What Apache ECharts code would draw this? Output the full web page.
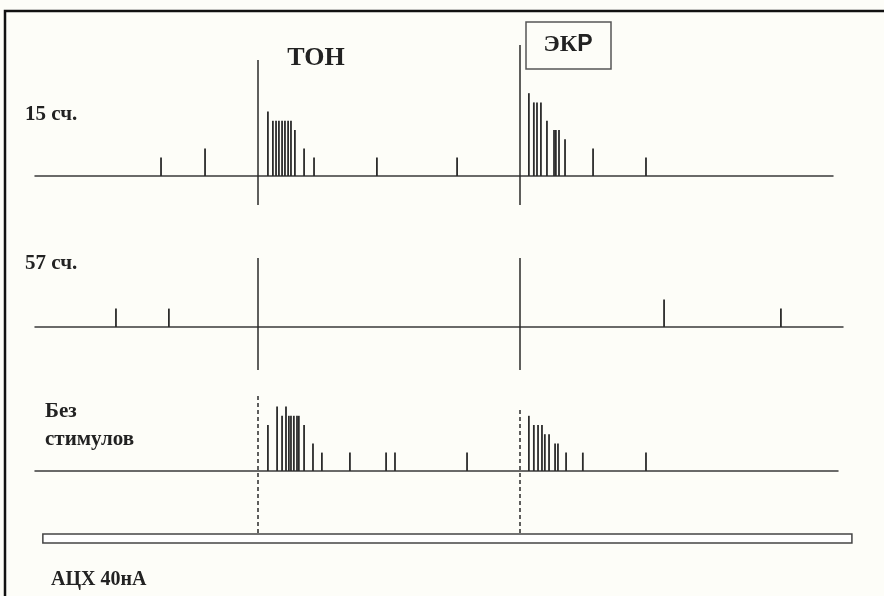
<!DOCTYPE html>
<html>
<head>
<meta charset="utf-8">
<script src="https://cdn.jsdelivr.net/npm/echarts@6/dist/echarts.min.js"></script>
<style>
html, body { margin: 0; padding: 0; background: #fdfdf8; }
#echart { width: 884px; height: 596px; }
</style>
</head>
<body>
<div id="echart"></div>
<script>
// время, мс от начала тона (ЭКР через 1000 мс); высота спайка - мгновенная частота, усл. ед.
let tone15Times = [-370, -202, 38, 57, 69, 80, 92, 103, 115, 126, 141, 176, 214, 454, 760,
    1034, 1053, 1065, 1080, 1103, 1130, 1137, 1149, 1172, 1279, 1481];
let tone15Rates = [2, 3, 7, 6, 6, 6, 6, 6, 6, 6, 5, 3, 2, 2, 2,
    9, 8, 8, 8, 6, 5, 5, 5, 4, 3, 2];

let tone57Times = [-542, -340, 1550, 1996];
let tone57Rates = [2, 2, 3, 2];

let noStimTimes = [38, 73, 92, 107, 118, 126, 137, 149, 156, 176, 210, 244, 351, 489, 523, 798,
    1034, 1053, 1069, 1084, 1095, 1111, 1134, 1145, 1176, 1240, 1481];
let noStimRates = [5, 7, 6, 7, 6, 6, 6, 6, 6, 5, 3, 2, 2, 2, 2, 2,
    6, 5, 5, 5, 4, 4, 3, 3, 2, 2, 2];

let onsets = [0, 1000];          // ТОН, ЭКР
let stimBar = [-821, 2267];      // АЦХ 40нА

// масштаб
const PX_PER_MS = 0.262;
const LEFT = 35;
const X_MIN = -851;
const U = 9.2;                   // пикселей на единицу частоты

let rows = [
    {times: tone15Times, rates: tone15Rates, base: 176, right: 833, yMin: -3.2, yMax: 14.3,
        marks: [[-3.15, 12.6], [-3.15, 14.25]], dashed: false},
    {times: tone57Times, rates: tone57Rates, base: 327, right: 843, yMin: -4.7, yMax: 7.6,
        marks: [[-4.67, 7.5], [-4.67, 7.5]], dashed: false},
    {times: noStimTimes, rates: noStimRates, base: 471, right: 838, yMin: -6.75, yMax: 8.2,
        marks: [[-6.74, 8.15], [-6.74, 6.85]], dashed: true}
];

function spike(params, api) {
    let p0 = api.coord([api.value(0), 0]);
    let p1 = api.coord([api.value(0), api.value(1)]);
    return {
        type: 'line',
        shape: {x1: p0[0], y1: p0[1], x2: p1[0], y2: p1[1]},
        style: {stroke: '#2b2b2b', lineWidth: 1.8}
    };
}

let grid = [], xAxis = [], yAxis = [], series = [];

rows.forEach(function (r, i) {
    let w = r.right - LEFT;
    grid.push({left: LEFT, top: r.base - r.yMax * U, width: w, height: (r.yMax - r.yMin) * U});
    xAxis.push({
        type: 'value', gridIndex: i, min: X_MIN, max: X_MIN + w / PX_PER_MS,
        axisLine: {show: true, onZero: true, lineStyle: {color: '#3a3a3a', width: 1.5}},
        axisTick: {show: false}, axisLabel: {show: false}, splitLine: {show: false}
    });
    yAxis.push({type: 'value', gridIndex: i, min: r.yMin, max: r.yMax, show: false, splitLine: {show: false}});
    series.push({
        type: 'custom',
        xAxisIndex: i, yAxisIndex: i,
        data: r.times.map(function (t, k) { return [t, r.rates[k]]; }),
        encode: {x: 0, y: 1},
        renderItem: spike,
        silent: true,
        markLine: {
            silent: true,
            symbol: ['none', 'none'],
            label: {show: false},
            lineStyle: {color: '#2a2a2a', width: 1.5, type: r.dashed ? [4, 3] : 'solid'},
            data: onsets.map(function (t, k) {
                return [{coord: [t, r.marks[k][0]]}, {coord: [t, r.marks[k][1]]}];
            })
        }
    });
});

// полоса стимуляции
let sw = 852 - LEFT;
grid.push({left: LEFT, top: 534, width: sw, height: 9});
xAxis.push({type: 'value', gridIndex: 3, min: X_MIN, max: X_MIN + sw / PX_PER_MS, show: false, splitLine: {show: false}});
yAxis.push({type: 'value', gridIndex: 3, min: 0, max: 1, show: false, splitLine: {show: false}});
series.push({
    type: 'custom',
    xAxisIndex: 3, yAxisIndex: 3,
    data: [stimBar],
    encode: {x: [0, 1]},
    renderItem: function (params, api) {
        let a = api.coord([api.value(0), 1]);
        let b = api.coord([api.value(1), 0]);
        return {
            type: 'rect',
            shape: {x: a[0], y: a[1], width: b[0] - a[0], height: b[1] - a[1]},
            style: {fill: '#fff', stroke: '#444', lineWidth: 1.5}
        };
    },
    silent: true
});

const SERIF = '"Liberation Serif", "DejaVu Serif", serif';

function label(text, x, y, size, align) {
    return {
        type: 'text', x: x, y: y, z: 10,
        style: {
            text: text, font: 'bold ' + size + 'px ' + SERIF, fill: '#222',
            align: align || 'left', verticalAlign: 'middle',
            textAlign: align || 'left', textVerticalAlign: 'middle'
        }
    };
}

let echart = echarts.init(document.getElementById('echart'));

let option = {
    backgroundColor: '#fdfdf8',
    animation: false,
    grid: grid,
    xAxis: xAxis,
    yAxis: yAxis,
    series: series,
    graphic: [
        {type: 'rect', z: 10, shape: {x: 5, y: 11, width: 900, height: 600},
            style: {fill: 'none', stroke: '#111', lineWidth: 2.5}},
        {type: 'rect', z: 10, shape: {x: 526, y: 22, width: 85, height: 47},
            style: {fill: 'none', stroke: '#555', lineWidth: 1.5}},
        label('ТОН', 316, 58, 26, 'center'),
        {
            type: 'text', x: 568, y: 45, z: 10,
            style: {
                text: '{a|ЭК}{b|Р}', fill: '#222',
                align: 'center', verticalAlign: 'middle',
                textAlign: 'center', textVerticalAlign: 'middle',
                rich: {
                    a: {font: 'bold 24px ' + SERIF, fill: '#222'},
                    b: {font: 'bold 23px "Liberation Sans", Arial, sans-serif', fill: '#222'}
                }
            }
        },
        label('15 сч.', 25, 115, 21),
        label('57 сч.', 25, 264, 21),
        label('Без', 45, 412, 21),
        label('стимулов', 45, 440, 21),
        label('АЦХ 40нА', 51, 580, 20)
    ]
};

echart.setOption(option);
</script>
</body>
</html>
